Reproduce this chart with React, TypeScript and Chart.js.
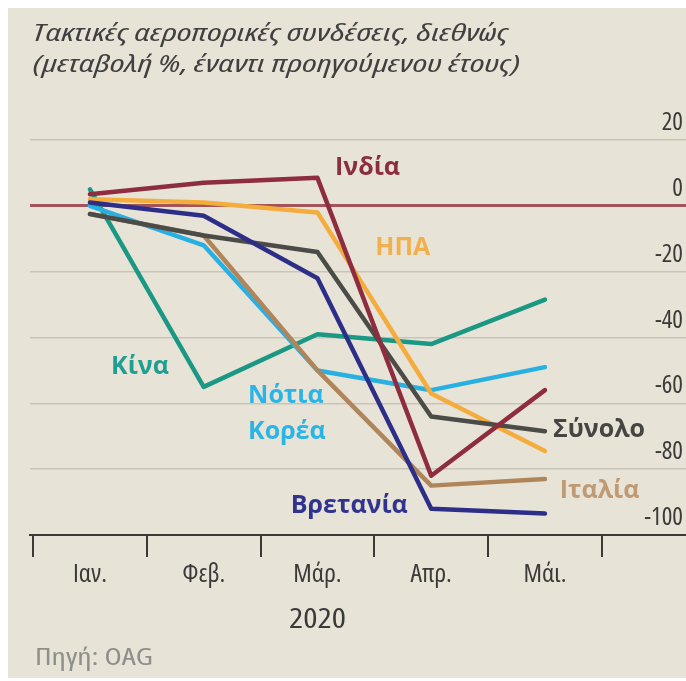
import React, { useEffect, useRef } from 'react';
import { Chart, registerables } from 'chart.js';

Chart.register(...registerables);

// ---- data ----
const months = ['Ιαν.', 'Φεβ.', 'Μάρ.', 'Απρ.', 'Μάι.'];
const yTickValues = [20, 0, -20, -40, -60, -80, -100];

const india = [3.5, 7, 8.5, -82, -56];
const usa = [2, 1, -2, -57, -74.5];
const china = [5, -55, -39, -42, -28.5];
const southKorea = [0, -12, -50, -56, -49];
const total = [-2.5, -9, -14, -64, -68.5];
const italy = [-2.5, -9, -50, -85, -83];
const britain = [1, -3, -22, -92, -93.5];

const titleLines = [
  'Τακτικές αεροπορικές συνδέσεις, διεθνώς',
  '(μεταβολή %, έναντι προηγούμενου έτους)',
];
const yearLabel = '2020';
const sourceLabel = 'Πηγή: OAG';

// ---- styles ----
const BG = '#e8e3d7';
const GRID = '#c9c4b9';
const ZERO = '#a3535a';
const AXIS = '#3b3a36';
const TEXT = '#3a3a38';
const SANS = '"Open Sans", "DejaVu Sans", sans-serif';

type Series = {
  name: string;
  values: number[];
  color: string;
  labelColor: string;
  order: number;
  anchor: [number, number];
  align: CanvasTextAlign;
  lines?: string[];
};

const series: Series[] = [
  { name: 'Ινδία', values: india, color: '#8e2c40', labelColor: '#8a2e40', order: 0, anchor: [2.44, 11.5], align: 'center' },
  { name: 'Βρετανία', values: britain, color: '#2c2e88', labelColor: '#30348e', order: 1, anchor: [2.28, -91.2], align: 'center' },
  { name: 'Σύνολο', values: total, color: '#4b4b47', labelColor: '#454541', order: 2, anchor: [4.07, -68.2], align: 'left' },
  { name: 'ΗΠΑ', values: usa, color: '#f4ac3c', labelColor: '#f2b04c', order: 3, anchor: [2.75, -12.7], align: 'center' },
  { name: 'Ιταλία', values: italy, color: '#b0855a', labelColor: '#c09a72', order: 4, anchor: [4.13, -86.7], align: 'left' },
  { name: 'Νότια Κορέα', values: southKorea, color: '#29b0e2', labelColor: '#2ab5e6', order: 5, anchor: [1.39, -57.6], align: 'left', lines: ['Νότια', 'Κορέα'] },
  { name: 'Κίνα', values: china, color: '#1a9884', labelColor: '#1f9f91', order: 6, anchor: [0.44, -49], align: 'center' },
];

function fittedText(
  ctx: CanvasRenderingContext2D,
  text: string,
  x: number,
  y: number,
  font: string,
  color: string,
  align: CanvasTextAlign,
  baseline: CanvasTextBaseline,
  width?: number,
) {
  ctx.save();
  ctx.font = font;
  ctx.fillStyle = color;
  ctx.textAlign = align;
  ctx.textBaseline = baseline;
  let sx = 1;
  if (width) {
    const m = ctx.measureText(text).width;
    if (m > 0) sx = width / m;
  }
  ctx.translate(x, y);
  ctx.scale(sx, 1);
  ctx.fillText(text, 0, 0);
  ctx.restore();
}

const textLayer = {
  id: 'textLayer',
  afterDraw(chart: Chart) {
    const ctx = chart.ctx;
    const xs = chart.scales.x;
    const ys = chart.scales.y;
    fittedText(ctx, titleLines[0], 25, 33, `italic condensed 400 24px ${SANS}`, '#404040', 'left', 'alphabetic', 475);
    fittedText(ctx, titleLines[1], 25, 64, `italic condensed 400 24px ${SANS}`, '#404040', 'left', 'alphabetic', 487);
    fittedText(ctx, yearLabel, xs.getPixelForValue(2), 612, `condensed 400 28px ${SANS}`, TEXT, 'center', 'middle', 57);
    fittedText(ctx, sourceLabel, 27, 650, `condensed 400 24px ${SANS}`, '#8e8e8a', 'left', 'middle', 118);
    for (const s of series) {
      const lines = s.lines ?? [s.name];
      const px = xs.getPixelForValue(s.anchor[0]);
      const py = ys.getPixelForValue(s.anchor[1]);
      lines.forEach((ln, k) => {
        fittedText(ctx, ln, px, py + k * 36, `700 25px ${SANS}`, s.labelColor, s.align, 'middle');
      });
    }
  },
};

const X_MIN = -0.527;
const X_MAX = 5.24;

export default function App() {
  const ref = useRef<HTMLCanvasElement>(null);

  useEffect(() => {
    const canvas = ref.current;
    if (!canvas) return;
    const chart = new Chart(canvas, {
      type: 'line',
      data: {
        datasets: series.map((s) => ({
          label: s.name,
          data: s.values.map((v, i) => ({ x: i, y: v })),
          borderColor: s.color,
          backgroundColor: s.color,
          borderWidth: 4.5,
          pointRadius: 0,
          tension: 0,
          order: s.order,
          borderJoinStyle: 'round' as const,
          borderCapStyle: 'round' as const,
        })),
      },
      options: {
        animation: false,
        responsive: false,
        maintainAspectRatio: false,
        layout: { padding: { top: 132, left: 22, right: 0, bottom: 0 } },
        plugins: {
          legend: { display: false },
          tooltip: { enabled: false },
          title: { display: false },
        },
        scales: {
          x: {
            type: 'linear',
            position: 'bottom',
            min: X_MIN,
            max: X_MAX,
            bounds: 'data',
            weight: 2,
            afterBuildTicks: (s: any) => {
              s.ticks = months.map((_, i) => ({ value: i }));
            },
            afterFit: (s: any) => {
              s.height = 121;
            },
            grid: { display: false, drawTicks: false },
            border: { display: false },
            ticks: {
              autoSkip: false,
              maxRotation: 0,
              padding: 2,
              color: TEXT,
              font: { family: SANS, size: 26, weight: 'condensed' },
              callback: (v: any) => months[Math.round(Number(v))] ?? '',
            },
          },
          xTicks: {
            type: 'linear',
            position: 'bottom',
            min: X_MIN,
            max: X_MAX,
            bounds: 'data',
            weight: 1,
            afterBuildTicks: (s: any) => {
              s.ticks = months.map((_, i) => ({ value: i - 0.5 })).concat([{ value: months.length - 0.5 }]);
            },
            afterFit: (s: any) => {
              s.height = 22;
            },
            grid: { drawOnChartArea: false, drawTicks: true, tickLength: 22, color: AXIS, lineWidth: 2 },
            border: { display: true, color: AXIS, width: 2 },
            ticks: { display: false },
          },
          y: {
            type: 'linear',
            position: 'right',
            min: -100,
            max: 20,
            afterBuildTicks: (s: any) => {
              s.ticks = yTickValues.map((v) => ({ value: v }));
            },
            afterFit: (s: any) => {
              s.width = 0;
            },
            grid: {
              drawTicks: false,
              color: (c: any) => (c.tick && c.tick.value === 0 ? ZERO : GRID),
              lineWidth: (c: any) => (c.tick && c.tick.value === 0 ? 3 : 1.5),
            },
            border: { display: false },
            ticks: {
              mirror: true,
              padding: -3,
              labelOffset: -17,
              color: TEXT,
              font: { family: SANS, size: 25, weight: 'condensed' },
              callback: (v: any) => String(v),
            },
          },
        },
      } as any,
      plugins: [textLayer],
    });
    return () => chart.destroy();
  }, []);

  return (
    <div style={{ position: 'absolute', left: 8, top: 8, width: 678, height: 670, background: BG, overflow: 'hidden' }}>
      <canvas ref={ref} width={678} height={670} style={{ display: 'block', width: 678, height: 670 }} />
    </div>
  );
}
